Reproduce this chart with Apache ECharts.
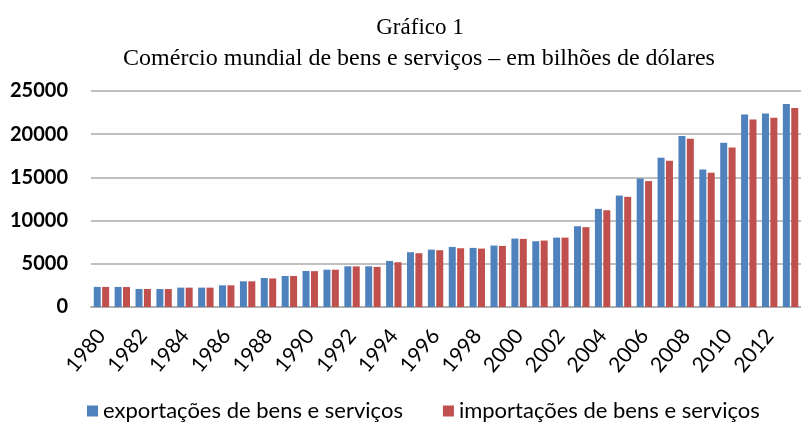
<!DOCTYPE html>
<html>
<head>
<meta charset="utf-8">
<script src="https://cdn.jsdelivr.net/npm/echarts@6/dist/echarts.min.js"></script>
<style>
  html, body { margin: 0; padding: 0; background: #fff; }
  #chart { width: 801px; height: 422px; }
</style>
</head>
<body>
<div id="chart"></div>
<script>
// anos e valores (bilhões de dólares)
var years = ['1980', '1981', '1982', '1983', '1984', '1985', '1986', '1987', '1988', '1989',
  '1990', '1991', '1992', '1993', '1994', '1995', '1996', '1997', '1998', '1999',
  '2000', '2001', '2002', '2003', '2004', '2005', '2006', '2007', '2008', '2009',
  '2010', '2011', '2012', '2013'];
var exportacoes = [2320, 2320, 2090, 2080, 2240, 2240, 2510, 2975, 3360, 3590,
  4170, 4320, 4710, 4710, 5330, 6340, 6640, 6950, 6840, 7110,
  7920, 7610, 8030, 9350, 11360, 12900, 14880, 17270, 19780, 15920,
  19010, 22290, 22400, 23490];
var importacoes = [2320, 2310, 2090, 2080, 2240, 2240, 2510, 2975, 3300, 3590,
  4150, 4320, 4700, 4640, 5180, 6220, 6570, 6800, 6760, 7070,
  7880, 7690, 8030, 9240, 11200, 12750, 14570, 16920, 19470, 15530,
  18470, 21710, 21900, 23030];
var yTicks = [0, 5000, 10000, 15000, 20000, 25000];

var chart = echarts.init(document.getElementById('chart'));

var option = {
  animation: false,
  backgroundColor: '#fff',
  title: [
    {
      text: 'Gráfico 1',
      left: 415, top: 11, textAlign: 'center',
      textStyle: { fontFamily: 'Liberation Serif', fontSize: 23, fontWeight: 'normal', color: '#000' }
    },
    {
      text: 'Comércio mundial de bens e serviços – em bilhões de dólares',
      left: 414, top: 42, textAlign: 'center',
      textStyle: { fontFamily: 'Liberation Serif', fontSize: 24, fontWeight: 'normal', color: '#000' }
    }
  ],
  legend: {
    left: 82, top: 395,
    icon: 'rect', itemWidth: 11, itemHeight: 11, itemGap: 40,
    textStyle: { fontFamily: 'Lato', fontSize: 22, color: '#000' },
    data: ['exportações de bens e serviços', 'importações de bens e serviços']
  },
  grid: { left: 91, top: 91, width: 717, height: 216 },
  xAxis: {
    type: 'category',
    data: years,
    axisTick: { show: false },
    axisLine: { lineStyle: { color: '#b0b0b0', width: 2 } },
    axisLabel: {
      interval: 1, rotate: 50, margin: 25,
      fontFamily: 'Lato', fontSize: 21, color: '#000'
    }
  },
  yAxis: {
    type: 'value',
    min: yTicks[0], max: yTicks[yTicks.length - 1], interval: 5000,
    axisLine: { show: false },
    axisTick: { show: false },
    axisLabel: {
      margin: 23, fontFamily: 'Lato', fontSize: 20, fontWeight: 'bold', color: '#000',
      formatter: function (v) { return String(v); }
    },
    splitLine: { lineStyle: { color: '#c0c0c0', width: 2 } }
  },
  series: [
    {
      name: 'exportações de bens e serviços',
      type: 'bar', data: exportacoes,
      barWidth: 7, barGap: '20%',
      itemStyle: { color: '#4f81bd' }
    },
    {
      name: 'importações de bens e serviços',
      type: 'bar', data: importacoes,
      barWidth: 7, barGap: '20%',
      itemStyle: { color: '#c0504d' }
    }
  ]
};

chart.setOption(option);
</script>
</body>
</html>
